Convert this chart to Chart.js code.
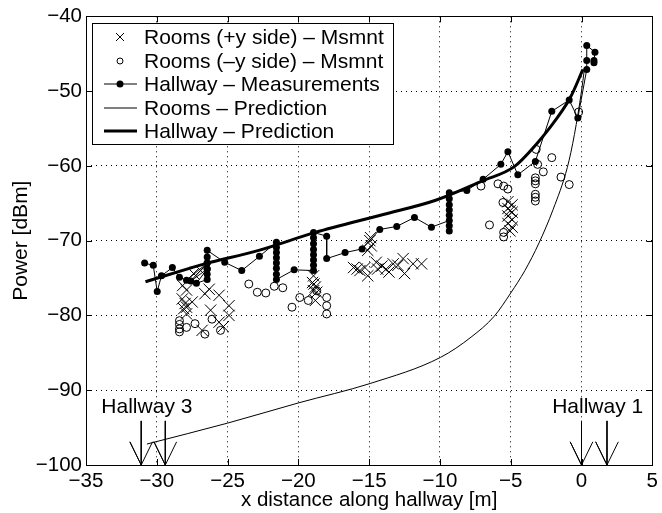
<!DOCTYPE html>
<html>
<head>
<meta charset="utf-8">
<script src="https://cdn.jsdelivr.net/npm/chart.js@4.4.1/dist/chart.umd.min.js"></script>
<style>
body { margin: 0; background: #fff; }
</style>
</head>
<body>
<canvas id="myChart" width="662" height="513"></canvas>
<script>
let xTicks = [-35, -30, -25, -20, -15, -10, -5, 0, 5];
let yTicks = [-100, -90, -80, -70, -60, -50, -40];

let roomsPlusX = [-28.17, -27.9, -27.4, -26.9, -26.3, -26.6, -25.6, -28.2, -27.5, -28.0, -27.9, -28.1, -24.9, -26.2, -27.9, -24.9, -25.6, -26.8, -25.3,
  -18.93, -19.0, -18.8, -18.93, -18.7, -18.8, -18.9,
  -14.95, -14.85, -15.1, -14.9,
  -16.1, -15.85, -15.65, -15.3, -15.1, -14.5, -14.4, -13.8, -13.3, -12.97, -12.6, -12.5, -11.9, -11.3, -13.6, -14.1,
  -5.2, -4.9, -5.2, -4.9, -5.2, -4.9, -5.2, -4.9, -5.05, -5.05];
let roomsPlusY = [-76.0, -76.6, -74.4, -74.0, -76.5, -77.1, -77.3, -77.8, -78.2, -78.4, -78.9, -79.1, -78.7, -79.3, -79.8, -80.0, -80.9, -82.0, -81.5,
  -74.7, -75.6, -76.2, -76.7, -76.9, -78.0, -75.8,
  -70.0, -70.7, -71.3, -69.6,
  -73.6, -73.8, -74.0, -73.6, -74.7, -72.9, -73.8, -73.8, -73.1, -73.3, -72.4, -74.4, -73.1, -73.1, -74.2, -73.4,
  -64.8, -65.2, -65.7, -66.2, -66.7, -67.2, -67.7, -68.2, -68.7, -66.0];

let roomsMinusX = [-28.4, -28.4, -28.4, -28.4, -27.9, -27.3, -26.6, -26.1, -25.5,
  -23.5, -22.9, -22.3, -21.7, -21.1,
  -20.45, -19.9, -19.3, -18.7, -18.0, -18.0, -18.0,
  -7.1, -6.5, -5.9, -5.5, -5.2, -5.55, -5.5, -5.5,
  -3.2, -3.1, -3.26, -3.26, -3.26, -3.26, -3.26, -3.26, -2.7, -2.1, -1.45, -0.87, -0.2];
let roomsMinusY = [-80.7, -81.2, -81.8, -82.2, -81.6, -81.1, -82.5, -80.5, -82.0,
  -75.8, -76.9, -77.0, -76.1, -76.3,
  -78.9, -77.6, -78.0, -76.7, -77.6, -78.7, -79.8,
  -62.7, -67.9, -62.4, -62.7, -63.1, -64.9, -68.9, -69.5,
  -57.8, -59.8, -61.6, -62.0, -62.4, -63.8, -64.2, -64.7, -60.8, -58.9, -61.5, -62.5, -52.8];

let hallMsmntX = [-30.86, -30.25, -29.97, -29.67, -28.9, -28.4, -27.9, -26.44, -27.6, -26.44, -27.2,
  -26.44, -26.44, -26.44, -26.44, -26.44, -26.44, -25.2, -24.0, -22.75,
  -21.55, -21.55, -21.55, -21.55, -21.55, -21.55, -21.55, -21.55, -20.3,
  -18.93, -18.93, -18.93, -18.93, -18.93, -18.93, -18.93, -18.93, -18.0, -18.0,
  -16.7, -15.5, -14.25, -13.05, -11.8, -10.6,
  -9.34, -9.34, -9.34, -9.34, -9.34, -9.34, -9.34, -9.34,
  -8.1, -6.95, -5.7, -5.2, -4.5, -3.26, -2.1, -0.87, -0.26, 0.37, 0.37, 0.37, 0.95, 0.88, 0.88];
let hallMsmntY = [-73.0, -73.3, -76.8, -74.7, -73.6, -74.9, -75.3, -73.0, -75.4, -73.8, -75.7,
  -75.2, -74.5, -73.8, -73.0, -72.2, -71.3, -72.9, -74.0, -72.1,
  -70.2, -70.9, -71.6, -72.3, -73.0, -73.7, -74.5, -75.2, -73.9,
  -74.0, -73.3, -72.6, -71.9, -71.2, -70.4, -69.6, -68.9, -69.4, -72.4,
  -71.6, -71.1, -68.5, -68.1, -66.9, -68.2,
  -67.3, -68.7, -68.0, -66.6, -65.9, -65.2, -64.4, -63.6,
  -63.3, -61.8, -59.8, -58.1, -61.2, -59.4, -52.7, -51.2, -53.6, -47.1, -45.9, -43.9, -44.8, -45.9, -46.2];

let roomsPredX = [-30.7, -25, -20, -14.93, -9.95, -7.8, -6.16, -5.0, -4.0, -3.0, -2.0, -1.0, -0.5, 0.0, 0.2];
let roomsPredY = [-97.2, -94.4, -91.7, -89.1, -85.6, -82.9, -80.1, -77.0, -74.0, -70.3, -65.8, -60.2, -55.8, -50.0, -47.1];

let hallPredX = [-30.8, -27.7, -26.6, -22.8, -18.8, -14.0, -10.3, -7.0, -4.75, -3.1, -2.4, -0.8, 0.1];
let hallPredY = [-75.5, -73.7, -73.1, -71.3, -68.9, -66.5, -64.6, -62.0, -60.1, -56.9, -55.3, -50.9, -47.1];

let arrowX = [-31.1, -29.4, 0, 1.8];
let hallwayNames = ['Hallway 3', 'Hallway 1'];
let hallwayNameX = [-30.7, 1.14];

let legendLabels = ['Rooms (+y side) \u2013 Msmnt', 'Rooms (\u2013y side) \u2013 Msmnt',
  'Hallway \u2013 Measurements', 'Rooms \u2013 Prediction', 'Hallway \u2013 Prediction'];

let fontName = '"Liberation Sans", Arial, Helvetica, sans-serif';

function toPoints(xs, ys){
    return xs.map(function(x, i){ return {x: x, y: ys[i]}; });
}

function arrowPoints(x){
    // shaft from top to tip, then both head arms
    return [{x: x, y: -94.1}, {x: x, y: -100}, {x: x - 0.8, y: -96.9}, {x: x, y: -100}, {x: x + 0.8, y: -96.9}];
}

function minusLabel(v){
    return String(v).replace('-', '\u2212');
}

let datasets = [
  {
    label: legendLabels[0],
    data: toPoints(roomsPlusX, roomsPlusY),
    pointStyle: 'crossRot',
    pointRadius: 8,
    borderColor: '#000',
    pointBorderWidth: 1,
    showLine: false
  },
  {
    label: legendLabels[1],
    data: toPoints(roomsMinusX, roomsMinusY),
    pointStyle: 'circle',
    pointRadius: 4,
    borderColor: '#000',
    backgroundColor: 'rgba(0,0,0,0)',
    pointBorderWidth: 1,
    showLine: false
  },
  {
    label: legendLabels[2],
    data: toPoints(hallMsmntX, hallMsmntY),
    pointStyle: 'circle',
    pointRadius: 3.5,
    borderColor: '#000',
    backgroundColor: '#000',
    borderWidth: 1,
    pointBorderWidth: 0,
    showLine: true
  },
  {
    label: legendLabels[3],
    data: toPoints(roomsPredX, roomsPredY),
    pointRadius: 0,
    borderColor: '#000',
    borderWidth: 1,
    cubicInterpolationMode: 'monotone',
    showLine: true
  },
  {
    label: legendLabels[4],
    data: toPoints(hallPredX, hallPredY),
    pointRadius: 0,
    borderColor: '#000',
    borderWidth: 3,
    cubicInterpolationMode: 'monotone',
    showLine: true
  }
];

arrowX.forEach(function(x){
    datasets.push({
      label: 'arrow',
      data: arrowPoints(x),
      pointRadius: 0,
      borderColor: '#000',
      borderWidth: 1,
      showLine: true,
      clip: 4
    });
});

let framePlugin = {
  id: 'frame',
  afterDraw: function(chart){
    let ctx = chart.ctx;
    let a = chart.chartArea;
    let xs = chart.scales.x;
    let ys = chart.scales.y;
    ctx.save();
    ctx.strokeStyle = '#000';
    ctx.lineWidth = 1;
    ctx.beginPath();
    xTicks.forEach(function(v){
        let px = Math.round(xs.getPixelForValue(v)) + 0.5;
        ctx.moveTo(px, a.bottom); ctx.lineTo(px, a.bottom - 6);
        ctx.moveTo(px, a.top); ctx.lineTo(px, a.top + 6);
    });
    yTicks.forEach(function(v){
        let py = Math.round(ys.getPixelForValue(v)) + 0.5;
        ctx.moveTo(a.left, py); ctx.lineTo(a.left + 6, py);
        ctx.moveTo(a.right, py); ctx.lineTo(a.right - 6, py);
    });
    ctx.stroke();
    ctx.strokeRect(Math.round(a.left) + 0.5, Math.round(a.top) + 0.5, Math.round(a.right - a.left), Math.round(a.bottom - a.top));

    ctx.fillStyle = '#000';
    ctx.font = '21px ' + fontName;
    ctx.textAlign = 'center';
    ctx.textBaseline = 'alphabetic';
    hallwayNames.forEach(function(name, i){
        ctx.fillText(name, xs.getPixelForValue(hallwayNameX[i]), ys.getPixelForValue(-93.07));
    });

    // legend box
    ctx.fillStyle = '#fff';
    ctx.fillRect(92, 23, 301, 121);
    ctx.strokeRect(92.5, 23.5, 301, 121);
    ctx.fillStyle = '#000';
    ctx.textAlign = 'left';
    ctx.textBaseline = 'middle';
    let rowY = [37, 61, 84, 108, 131];
    legendLabels.forEach(function(text, i){
        ctx.fillText(text, 144, rowY[i] + 1);
    });
    ctx.lineWidth = 1;
    ctx.beginPath();
    ctx.moveTo(116, rowY[0] - 4); ctx.lineTo(124, rowY[0] + 4);
    ctx.moveTo(124, rowY[0] - 4); ctx.lineTo(116, rowY[0] + 4);
    ctx.stroke();
    ctx.beginPath();
    ctx.arc(120, rowY[1], 3, 0, Math.PI * 2);
    ctx.stroke();
    ctx.beginPath();
    ctx.moveTo(104, rowY[2]); ctx.lineTo(137, rowY[2]);
    ctx.moveTo(104, rowY[3]); ctx.lineTo(137, rowY[3]);
    ctx.stroke();
    ctx.beginPath();
    ctx.arc(120, rowY[2], 3.5, 0, Math.PI * 2);
    ctx.fill();
    ctx.lineWidth = 3;
    ctx.beginPath();
    ctx.moveTo(104, rowY[4]); ctx.lineTo(137, rowY[4]);
    ctx.stroke();
    ctx.restore();
  }
};

let config = {
    type: 'scatter',
    data: { datasets: datasets },
    options: {
      responsive: false,
      animation: false,
      devicePixelRatio: 1,
      layout: { padding: { left: 0, top: 15, right: 6, bottom: 0 } },
      plugins: {
        legend: { display: false },
        tooltip: { enabled: false }
      },
      scales: {
        x: {
          type: 'linear',
          min: -35,
          max: 5,
          afterBuildTicks: function(s){ s.ticks = xTicks.map(function(v){ return {value: v}; }); },
          afterFit: function(s){ s.height = 48; },
          ticks: {
            color: '#000',
            padding: 4,
            maxRotation: 0,
            font: { family: fontName, size: 20.5 },
            callback: minusLabel
          },
          grid: { color: '#000', lineWidth: 1, drawTicks: false },
          border: { display: false, dash: [1, 4] },
          title: {
            display: true,
            text: 'x distance along hallway [m]',
            color: '#000',
            font: { family: fontName, size: 20.5 },
            padding: { top: 0, bottom: 0 }
          }
        },
        y: {
          type: 'linear',
          min: -100,
          max: -40,
          afterBuildTicks: function(s){ s.ticks = yTicks.map(function(v){ return {value: v}; }); },
          afterFit: function(s){ s.width = 86; },
          ticks: {
            color: '#000',
            padding: 4,
            font: { family: fontName, size: 20.5 },
            callback: minusLabel
          },
          grid: { color: '#000', lineWidth: 1, drawTicks: false },
          border: { display: false, dash: [1, 4] },
          title: {
            display: true,
            text: 'Power [dBm]',
            color: '#000',
            font: { family: fontName, size: 21 },
            padding: { top: 9, bottom: 0 }
          }
        }
      }
    },
    plugins: [framePlugin]
};

let myChart = new Chart(document.getElementById('myChart'), config);
</script>
</body>
</html>
